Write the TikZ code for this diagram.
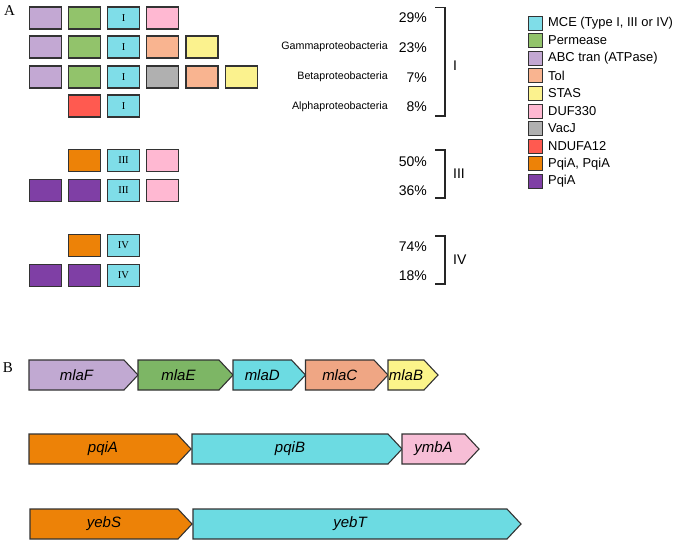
\documentclass[tikz,border=0pt]{standalone}
\usepackage{fontspec}
\setmainfont{Liberation Sans}
\newfontfamily\seriffont{Liberation Serif}
\definecolor{cMCE}{HTML}{7FDDE8}
\definecolor{cPerm}{HTML}{92C36B}
\definecolor{cABC}{HTML}{C3A8D3}
\definecolor{cTol}{HTML}{F9B490}
\definecolor{cSTAS}{HTML}{FBF28E}
\definecolor{cDUF}{HTML}{FFB8D2}
\definecolor{cVacJ}{HTML}{B0B0B0}
\definecolor{cNDU}{HTML}{FF5A50}
\definecolor{cOra}{HTML}{ED8207}
\definecolor{cPur}{HTML}{7F3FA5}
\definecolor{gF}{HTML}{C1A9D2}
\definecolor{gE}{HTML}{7DB665}
\definecolor{gD}{HTML}{6CDBE2}
\definecolor{gC}{HTML}{EFA684}
\definecolor{gB}{HTML}{FBF48A}
\definecolor{gymb}{HTML}{F7BED6}
\definecolor{edge}{HTML}{333333}
\tikzset{
  dbox/.style={draw=edge, line width=1.2pt, minimum width=32pt, minimum height=22pt, inner sep=0pt, fill=#1, font=\seriffont\fontsize{10.5}{12}\selectfont},
  lbox/.style={draw=edge, line width=1pt, minimum width=14pt, minimum height=14pt, inner sep=0pt, fill=#1},
  ltext/.style={anchor=west, font=\fontsize{12.9}{14}\selectfont, inner sep=0pt},
  pct/.style={anchor=east, font=\fontsize{14}{16}\selectfont, inner sep=0pt},
  spec/.style={anchor=east, font=\fontsize{10.7}{12}\selectfont, inner sep=0pt},
  brk/.style={draw=black!85, line width=1.3pt},
  brklab/.style={anchor=west, font=\fontsize{14}{16}\selectfont, inner sep=0pt},
  genetext/.style={font=\itshape\fontsize{15}{17}\selectfont, inner sep=0pt},
  panel/.style={font=\seriffont\fontsize{15}{17}\selectfont, inner sep=0pt}
}
% gene arrow: x1, x2, ytop, color, label, name
\newcommand\mygene[6]{%
  \draw[draw=edge, line width=1.1pt, fill=#4, line join=miter]
    (#1,#3) -- ({#2-14},#3) -- (#2,{#3+15}) -- ({#2-14},{#3+30}) -- (#1,{#3+30}) -- cycle;
  \node[genetext] (#6) at ({(#1+#2-14)/2},{#3+15}) {#5};
}
\begin{document}
\begin{tikzpicture}[x=1pt,y=-1pt]
\useasboundingbox (0,0) rectangle (675,542);
\fill[white] (0,0) rectangle (675,542);
% panel labels
\node[panel] (pA) at (9.5,10.5) {A};
\node[panel] (pB) at (8,367.5) {B};
% row 1
\node[dbox=cABC] (r1a) at (45.5,18) {};
\node[dbox=cPerm] (r1b) at (84.5,18) {};
\node[dbox=cMCE] (r1c) at (123.5,18) {I};
\node[dbox=cDUF] (r1d) at (162.5,18) {};
% row 2
\node[dbox=cABC] (r2a) at (45.5,47) {};
\node[dbox=cPerm] (r2b) at (84.5,47) {};
\node[dbox=cMCE] (r2c) at (123.5,47) {I};
\node[dbox=cTol] (r2d) at (162.5,47) {};
\node[dbox=cSTAS] (r2e) at (202,47) {};
% row 3
\node[dbox=cABC] (r3a) at (45.5,77) {};
\node[dbox=cPerm] (r3b) at (84.5,77) {};
\node[dbox=cMCE] (r3c) at (123.5,77) {I};
\node[dbox=cVacJ] (r3d) at (162.5,77) {};
\node[dbox=cTol] (r3e) at (202,77) {};
\node[dbox=cSTAS] (r3f) at (241.5,77) {};
% row 4
\node[dbox=cNDU] (r4b) at (84.5,106) {};
\node[dbox=cMCE] (r4c) at (123.5,106) {I};
% III
\node[dbox=cOra] (r5b) at (84.5,160.5) {};
\node[dbox=cMCE] (r5c) at (123.5,160.5) {III};
\node[dbox=cDUF] (r5d) at (162.5,160.5) {};
\node[dbox=cPur] (r6a) at (45.5,190.5) {};
\node[dbox=cPur] (r6b) at (84.5,190.5) {};
\node[dbox=cMCE] (r6c) at (123.5,190.5) {III};
\node[dbox=cDUF] (r6d) at (162.5,190.5) {};
% IV
\node[dbox=cOra] (r7b) at (84.5,245.5) {};
\node[dbox=cMCE] (r7c) at (123.5,245.5) {IV};
\node[dbox=cPur] (r8a) at (45.5,275.5) {};
\node[dbox=cPur] (r8b) at (84.5,275.5) {};
\node[dbox=cMCE] (r8c) at (123.5,275.5) {IV};
% species
\node[spec] (sg) at (388,47) {Gammaproteobacteria};
\node[spec] (sb) at (388,76.5) {Betaproteobacteria};
\node[spec] (sa) at (388,106.5) {Alphaproteobacteria};
% percentages
\node[pct] (p1) at (427,18) {29\%};
\node[pct] (p2) at (427,47.5) {23\%};
\node[pct] (p3) at (427,77.5) {7\%};
\node[pct] (p4) at (427,107) {8\%};
\node[pct] (p5) at (427,161.5) {50\%};
\node[pct] (p6) at (427,190.5) {36\%};
\node[pct] (p7) at (427,246.5) {74\%};
\node[pct] (p8) at (427,275.5) {18\%};
% brackets
\coordinate (b1t) at (445,7.5);
\coordinate (b1b) at (445,116);
\coordinate (b3t) at (445,150);
\coordinate (b3b) at (445,198);
\coordinate (b4t) at (445,236);
\coordinate (b4b) at (445,284);
\draw[brk] ([xshift=-10pt]b1t) -- (b1t) -- (b1b) -- ([xshift=-10pt]b1b);
\draw[brk] ([xshift=-10pt]b3t) -- (b3t) -- (b3b) -- ([xshift=-10pt]b3b);
\draw[brk] ([xshift=-10pt]b4t) -- (b4t) -- (b4b) -- ([xshift=-10pt]b4b);
\node[brklab] (l1) at (453,66) {I};
\node[brklab] (l3) at (453,174) {III};
\node[brklab] (l4) at (453,260) {IV};
% legend
\foreach \c/\t/\y [count=\i] in {cMCE/{MCE (Type I, III or IV)}/23, cPerm/Permease/40.6, cABC/{ABC tran (ATPase)}/58.2, cTol/Tol/75.8, cSTAS/STAS/93.4, cDUF/DUF330/111, cVacJ/VacJ/128.6, cNDU/NDUFA12/146.2, cOra/{PqiA, PqiA}/163.8, cPur/PqiA/181.4}{
  \node[lbox=\c] (lg\i) at (535.5,\y) {};
  \node[ltext] (lt\i) at (548,\y) {\t};
}
% genes
\mygene{29}{138}{360}{gF}{mlaF}{gmlaF}
\mygene{138}{233}{360}{gE}{mlaE}{gmlaE}
\mygene{233}{305.5}{360}{gD}{mlaD}{gmlaD}
\mygene{305.5}{388}{360}{gC}{mlaC}{gmlaC}
\mygene{388}{438}{360}{gB}{mlaB}{gmlaB}
\mygene{29}{191}{434}{cOra}{pqiA}{gpqiA}
\mygene{192}{402}{434}{gD}{pqiB}{gpqiB}
\mygene{402}{479}{434}{gymb}{ymbA}{gymbA}
\mygene{30}{192}{509}{cOra}{yebS}{gyebS}
\mygene{193}{521}{509}{gD}{yebT}{gyebT}
\end{tikzpicture}
\end{document}
